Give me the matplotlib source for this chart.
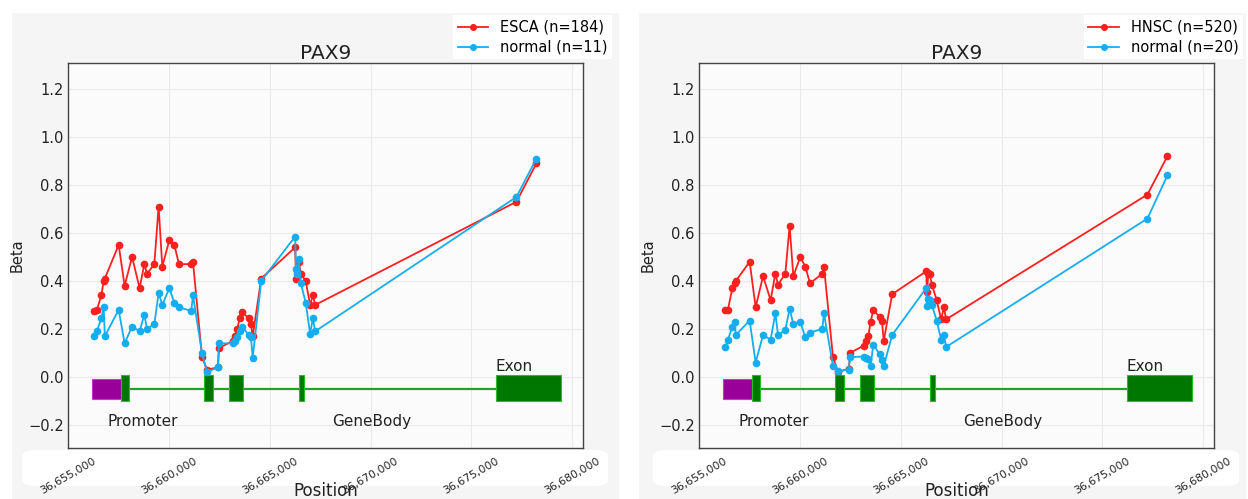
import numpy as np
import matplotlib
matplotlib.use("Agg")
import matplotlib.pyplot as plt
from matplotlib.patches import Rectangle, FancyBboxPatch
from matplotlib.ticker import FuncFormatter

# ── CpG probe positions (shared by both panels) ──────────────────────────────
positions = [
    36656290, 36656414, 36656637, 36656751, 36656810, 36657495, 36657792,
    36658160, 36658536, 36658770, 36658904, 36659266, 36659479, 36659662,
    36660010, 36660258, 36660491, 36661101, 36661185, 36661632, 36661880,
    36662425, 36662475, 36663149, 36663283, 36663382, 36663506, 36663630,
    36663943, 36664062, 36664151, 36664573, 36666259, 36666299, 36666373,
    36666433, 36666542, 36666780, 36667003, 36667137, 36667251, 36677246,
    36678238,
]

esca_beta = [
    0.275, 0.28, 0.34, 0.40, 0.41, 0.55, 0.38, 0.50, 0.37, 0.47, 0.43, 0.47,
    0.71, 0.46, 0.57, 0.55, 0.47, 0.47, 0.48, 0.085, 0.03, 0.04, 0.12, 0.15,
    0.17, 0.20, 0.245, 0.27, 0.245, 0.22, 0.17, 0.41, 0.54, 0.41, 0.44, 0.48,
    0.43, 0.40, 0.30, 0.34, 0.30, 0.73, 0.89,
]
esca_normal_beta = [
    0.17, 0.19, 0.245, 0.29, 0.17, 0.28, 0.14, 0.21, 0.19, 0.26, 0.20, 0.22,
    0.35, 0.30, 0.37, 0.31, 0.29, 0.275, 0.34, 0.10, 0.02, 0.04, 0.14, 0.14,
    0.15, 0.165, 0.19, 0.21, 0.175, 0.165, 0.08, 0.40, 0.585, 0.45, 0.43,
    0.49, 0.39, 0.31, 0.18, 0.245, 0.19, 0.75, 0.91,
]
hnsc_beta = [
    0.28, 0.28, 0.37, 0.39, 0.40, 0.48, 0.29, 0.42, 0.32, 0.43, 0.385, 0.43,
    0.63, 0.42, 0.50, 0.46, 0.39, 0.43, 0.46, 0.083, 0.02, 0.035, 0.10, 0.13,
    0.15, 0.17, 0.23, 0.28, 0.25, 0.235, 0.15, 0.345, 0.44, 0.355, 0.435,
    0.43, 0.385, 0.32, 0.24, 0.29, 0.24, 0.76, 0.92,
]
hnsc_normal_beta = [
    0.125, 0.155, 0.21, 0.23, 0.175, 0.235, 0.06, 0.175, 0.155, 0.265, 0.175,
    0.195, 0.285, 0.22, 0.23, 0.165, 0.185, 0.20, 0.265, 0.045, 0.025, 0.03,
    0.083, 0.085, 0.08, 0.075, 0.045, 0.135, 0.095, 0.07, 0.045, 0.175, 0.37,
    0.295, 0.325, 0.32, 0.30, 0.235, 0.155, 0.175, 0.125, 0.66, 0.84,
]

# ── Gene structure ───────────────────────────────────────────────────────────
promoter = (36656190, 36657630)
exons = [
    (36657630, 36658030),
    (36661746, 36662192),
    (36662950, 36663645),
    (36666473, 36666706),
    (36676230, 36679450),
]

panels = [
    ("ESCA (n=184)", "normal (n=11)", esca_beta, esca_normal_beta),
    ("HNSC (n=520)", "normal (n=20)", hnsc_beta, hnsc_normal_beta),
]

W, H = 1248, 499
RED = "#ff1f1f"
BLUE = "#14aef0"

fig = plt.figure(figsize=(W / 100, H / 100), dpi=100, facecolor="white")

for i, (tlabel, nlabel, tumor, normal) in enumerate(panels):
    off = i * 631
    # panel background and tick-label band
    fig.patches.append(Rectangle(((12 + off - (i * 4)) / W, 0), 607 / W, (H - 13) / H,
                                 transform=fig.transFigure, facecolor="#f5f5f5",
                                 edgecolor="none", zorder=-2))
    fig.patches.append(FancyBboxPatch(((22 + off) / W, 1 - 486 / H), 586 / W, 36 / H,
                                      boxstyle="round,pad=0,rounding_size=0.012",
                                      transform=fig.transFigure, facecolor="white",
                                      edgecolor="none", zorder=-1))

    ax = fig.add_axes([(68 + off) / W, 1 - 448 / H, 515 / W, 385 / H])
    ax.set_facecolor("#fbfbfb")

    ax.plot(positions, tumor, "-o", color=RED, lw=1.3, ms=4.5, label=tlabel, zorder=3)
    ax.plot(positions, normal, "-o", color=BLUE, lw=1.3, ms=4.5, label=nlabel, zorder=4)

    # gene model
    ax.plot([exons[0][0], exons[-1][0]], [-0.05, -0.05], color="#1fa51f", lw=1.6, zorder=2)
    ax.add_patch(Rectangle((promoter[0], -0.09), promoter[1] - promoter[0], 0.08,
                           facecolor="#990099", edgecolor="#cc33cc", lw=0.8, zorder=2))
    for start, end in exons:
        ax.add_patch(Rectangle((start, -0.1), end - start, 0.108,
                               facecolor="#007800", edgecolor="#22c022", lw=0.8, zorder=2))
    ax.text(36658670, -0.185, "Promoter", ha="center", va="center", fontsize=11, color="#222222")
    ax.text(36670080, -0.185, "GeneBody", ha="center", va="center", fontsize=11, color="#222222")
    ax.text(exons[-1][0], 0.012, "Exon", ha="left", va="bottom", fontsize=11, color="#222222")

    ax.set_xlim(36654980, 36680550)
    ax.set_ylim(-0.296, 1.308)
    ax.set_xticks(np.arange(36655000, 36680001, 5000))
    ax.set_yticks(np.arange(-0.2, 1.21, 0.2))
    ax.xaxis.set_major_formatter(FuncFormatter(lambda v, p: f"{int(round(v)):,}"))
    ax.yaxis.set_major_formatter(FuncFormatter(lambda v, p: f"{v:.1f}".replace("-", "\u2212")))
    ax.tick_params(axis="x", length=0, pad=5.5, labelsize=7.8, labelcolor="#222222")
    ax.tick_params(axis="y", length=0, pad=3, labelsize=10.5, labelcolor="#222222")
    for lab in ax.get_xticklabels():
        lab.set_rotation(30)
        lab.set_ha("center")
    ax.grid(True, color="#e9e9e9", lw=0.8)
    ax.set_axisbelow(True)
    for sp in ax.spines.values():
        sp.set_color("#444444")
        sp.set_linewidth(1.0)

    ax.set_title("PAX9", fontsize=14.5, pad=3, color="#222222")
    ax.set_ylabel("Beta", fontsize=10.5, color="#222222")
    ax.yaxis.set_label_coords(-0.085, 0.5)
    ax.set_xlabel("Position", fontsize=12, color="#222222")
    ax.xaxis.set_label_coords(0.5, -0.088)

    ax.legend(loc="upper right", bbox_to_anchor=((619 + off) / W, 1 - 8 / H),
              bbox_transform=fig.transFigure, fontsize=10.5, frameon=True,
              facecolor="white", edgecolor="none", framealpha=1, fancybox=False,
              handlelength=2.1, handletextpad=0.8, labelspacing=0.35,
              borderpad=0.3, markerscale=0.9)

fig.savefig("out.png", dpi=100, facecolor=fig.get_facecolor())
